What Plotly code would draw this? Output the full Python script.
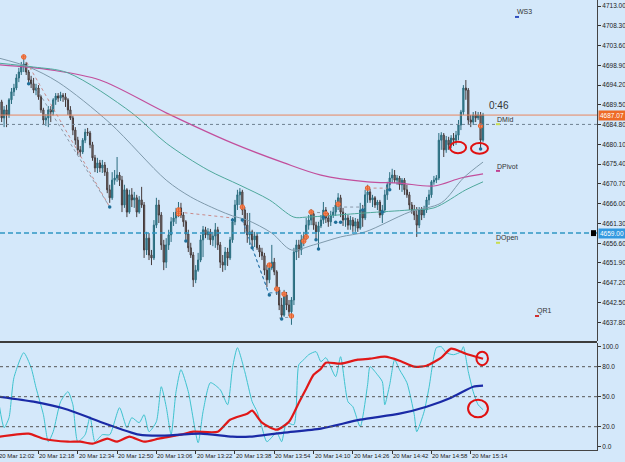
import pandas as pd
import plotly.graph_objects as go

BG = "#d4e8fa"
FONT = "Liberation Sans"
base = pd.Timestamp("2024-03-20 12:02")

# ---------------- price data (1-minute bars from 12:02) ----------------
opens = [
    4688.3, 4690.2, 4686.4, 4688.3, 4687.1, 4690.7, 4692.6, 4693.5, 4695.9, 4697.3,
    4698.7, 4699.2, 4697.3, 4695.4, 4694.5, 4693.0, 4693.5, 4691.4, 4688.3, 4685.9,
    4686.4, 4688.3, 4687.8, 4690.7, 4691.6, 4691.1, 4691.8, 4691.4, 4690.7, 4688.3,
    4686.4, 4683.5, 4681.1, 4678.8, 4678.3, 4681.1, 4683.0, 4682.8, 4680.0, 4676.9,
    4674.5, 4675.7, 4674.5, 4675.2, 4673.5, 4669.3, 4667.4, 4671.6, 4672.1, 4672.8,
    4671.6, 4665.7, 4669.3, 4664.0, 4668.1, 4666.9, 4667.4, 4664.0, 4666.9, 4665.7,
    4655.0, 4657.8, 4653.8, 4653.1, 4660.9, 4665.7, 4663.3, 4656.2, 4652.1, 4656.2,
    4658.6, 4661.7, 4662.6, 4664.0, 4665.0, 4663.3, 4661.7, 4658.8, 4655.5, 4653.8,
    4647.9, 4650.2, 4652.6, 4657.4, 4659.8, 4658.6, 4659.3, 4657.4, 4658.3, 4659.8,
    4656.2, 4652.1, 4651.4, 4654.5, 4653.1, 4657.4, 4661.7, 4665.7, 4668.1, 4668.8,
    4664.5, 4660.9, 4658.6, 4659.3, 4657.4, 4658.3, 4655.5, 4654.5, 4653.6, 4650.2,
    4647.9, 4650.7, 4652.1, 4649.8, 4645.5, 4641.9, 4639.5, 4644.3, 4641.9, 4640.3,
    4643.1, 4654.5, 4656.2, 4655.0, 4657.4, 4658.3, 4660.9, 4662.1, 4663.6, 4660.9,
    4659.3, 4660.7, 4662.1, 4664.5, 4662.6, 4661.7, 4663.3, 4664.0, 4665.7, 4667.4,
    4664.0, 4662.1, 4662.6, 4660.9, 4662.1, 4660.7, 4661.7, 4660.2, 4664.5, 4662.6,
    4668.1, 4668.8, 4666.9, 4667.4, 4665.7, 4666.4, 4663.3, 4664.5, 4668.1, 4670.5,
    4672.1, 4672.8, 4671.6, 4672.1, 4670.5, 4671.6, 4669.3, 4668.1, 4665.7, 4664.5,
    4663.3, 4660.9, 4664.5, 4663.3, 4664.5, 4666.9, 4668.1, 4671.2, 4671.6, 4672.1,
    4681.1, 4682.3, 4678.8, 4681.1, 4680.0, 4681.6, 4681.1, 4682.3, 4684.7, 4687.8,
    4693.5, 4693.0, 4685.9, 4685.4, 4687.1, 4686.4, 4687.1, 4681.1,
]
highs = [
    4691.1, 4690.7, 4689.2, 4689.5, 4691.1, 4693.5, 4694.5, 4696.8, 4698.3, 4699.7,
    4700.4, 4699.7, 4697.8, 4696.4, 4695.9, 4694.5, 4694.2, 4691.8, 4688.8, 4687.3,
    4689.2, 4689.2, 4691.1, 4692.3, 4692.3, 4692.6, 4692.3, 4692.3, 4691.1, 4689.2,
    4686.9, 4684.2, 4681.9, 4679.7, 4681.6, 4683.8, 4684.0, 4683.3, 4680.7, 4677.6,
    4676.9, 4676.4, 4676.4, 4675.9, 4674.5, 4670.5, 4673.5, 4674.0, 4677.1, 4673.5,
    4672.6, 4670.5, 4669.7, 4669.3, 4669.7, 4668.8, 4668.1, 4667.8, 4670.0, 4666.4,
    4659.3, 4659.0, 4655.0, 4662.1, 4667.4, 4666.9, 4664.0, 4657.4, 4657.8, 4659.8,
    4662.8, 4664.0, 4665.0, 4666.4, 4666.2, 4664.0, 4662.1, 4659.8, 4656.7, 4654.5,
    4651.4, 4654.3, 4658.6, 4660.7, 4660.5, 4660.2, 4660.0, 4659.3, 4661.4, 4660.5,
    4656.9, 4653.8, 4655.7, 4655.5, 4658.1, 4662.6, 4666.9, 4669.3, 4669.7, 4669.3,
    4665.2, 4663.8, 4663.8, 4659.8, 4659.3, 4659.0, 4656.2, 4655.5, 4654.3, 4651.4,
    4651.9, 4656.2, 4653.1, 4650.2, 4646.2, 4643.6, 4645.5, 4645.0, 4643.1, 4643.8,
    4655.5, 4657.4, 4657.4, 4658.6, 4659.3, 4662.6, 4663.3, 4664.7, 4664.3, 4661.7,
    4661.7, 4663.3, 4666.4, 4665.2, 4663.8, 4664.3, 4665.2, 4666.9, 4668.5, 4668.1,
    4665.0, 4663.8, 4663.3, 4663.1, 4662.8, 4662.6, 4662.4, 4666.2, 4665.7, 4669.3,
    4670.5, 4669.5, 4668.1, 4667.8, 4666.9, 4666.9, 4665.7, 4669.3, 4671.2, 4673.5,
    4674.3, 4674.0, 4672.8, 4672.6, 4672.1, 4672.1, 4670.5, 4668.8, 4666.4, 4665.7,
    4665.2, 4665.2, 4665.2, 4665.5, 4667.6, 4669.3, 4671.6, 4672.6, 4672.8, 4682.8,
    4683.0, 4682.8, 4682.1, 4681.9, 4682.3, 4682.8, 4683.3, 4685.9, 4688.3, 4694.2,
    4695.4, 4693.5, 4687.1, 4687.8, 4688.0, 4687.8, 4687.8, 4687.6,
]
lows = [
    4687.1, 4685.4, 4684.2, 4684.2, 4686.4, 4689.7, 4691.6, 4693.0, 4694.9, 4696.6,
    4697.3, 4696.6, 4694.2, 4693.5, 4692.3, 4691.8, 4690.7, 4687.6, 4684.7, 4684.5,
    4684.2, 4685.4, 4687.1, 4689.5, 4690.2, 4690.4, 4690.2, 4689.0, 4687.1, 4685.9,
    4682.3, 4680.0, 4677.6, 4677.1, 4677.8, 4680.4, 4682.1, 4679.2, 4676.2, 4673.5,
    4673.3, 4673.5, 4673.3, 4672.6, 4668.5, 4666.2, 4666.9, 4670.5, 4671.2, 4670.2,
    4664.0, 4665.0, 4662.8, 4663.6, 4665.2, 4665.0, 4662.8, 4663.6, 4665.0, 4653.1,
    4653.8, 4652.6, 4651.4, 4652.6, 4660.2, 4661.4, 4655.0, 4650.2, 4650.7, 4655.0,
    4656.9, 4660.7, 4661.2, 4662.8, 4662.6, 4660.5, 4657.4, 4654.5, 4653.1, 4646.2,
    4647.1, 4649.8, 4652.1, 4653.3, 4657.8, 4657.4, 4656.2, 4655.9, 4655.5, 4655.0,
    4650.7, 4649.8, 4650.2, 4651.2, 4652.6, 4656.7, 4660.9, 4664.5, 4665.7, 4663.3,
    4659.0, 4656.7, 4656.2, 4655.7, 4655.7, 4655.0, 4653.3, 4652.6, 4649.0, 4646.2,
    4647.1, 4650.2, 4649.0, 4644.3, 4640.7, 4638.6, 4639.1, 4640.7, 4639.3, 4637.2,
    4641.9, 4652.6, 4653.1, 4653.8, 4655.9, 4657.4, 4659.8, 4660.9, 4659.8, 4657.4,
    4655.2, 4660.2, 4661.2, 4661.4, 4660.5, 4660.7, 4662.6, 4663.1, 4664.5, 4662.8,
    4660.7, 4660.5, 4659.8, 4659.8, 4659.3, 4659.3, 4659.3, 4659.8, 4660.5, 4662.1,
    4666.2, 4666.2, 4665.2, 4665.0, 4664.5, 4662.6, 4661.4, 4663.8, 4666.9, 4669.3,
    4670.9, 4670.9, 4670.5, 4669.3, 4668.8, 4668.1, 4667.4, 4664.5, 4663.6, 4662.1,
    4658.1, 4660.2, 4662.1, 4662.6, 4663.8, 4665.7, 4667.4, 4670.5, 4670.9, 4671.6,
    4678.8, 4677.1, 4678.1, 4678.8, 4679.2, 4679.7, 4680.0, 4681.1, 4683.5, 4687.1,
    4690.7, 4684.7, 4684.2, 4684.7, 4685.4, 4685.9, 4679.2, 4680.7,
]
closes = [
    4690.2, 4686.4, 4688.3, 4687.1, 4690.7, 4692.6, 4693.5, 4695.9, 4697.3, 4698.7,
    4699.2, 4697.3, 4695.4, 4694.5, 4693.0, 4693.5, 4691.4, 4688.3, 4685.9, 4686.4,
    4688.3, 4687.8, 4690.7, 4691.6, 4691.1, 4691.8, 4691.4, 4690.7, 4688.3, 4686.4,
    4683.5, 4681.1, 4678.8, 4678.3, 4681.1, 4683.0, 4682.8, 4680.0, 4676.9, 4674.5,
    4675.7, 4674.5, 4675.2, 4673.5, 4669.3, 4667.4, 4671.6, 4672.1, 4672.8, 4671.6,
    4665.7, 4669.3, 4664.0, 4668.1, 4666.9, 4667.4, 4664.0, 4666.9, 4665.7, 4655.0,
    4657.8, 4653.8, 4653.1, 4660.9, 4665.7, 4663.3, 4656.2, 4652.1, 4656.2, 4658.6,
    4661.7, 4662.6, 4664.0, 4665.0, 4663.3, 4661.7, 4658.8, 4655.5, 4653.8, 4647.9,
    4650.2, 4652.6, 4657.4, 4659.8, 4658.6, 4659.3, 4657.4, 4658.3, 4659.8, 4656.2,
    4652.1, 4651.4, 4654.5, 4653.1, 4657.4, 4661.7, 4665.7, 4668.1, 4668.8, 4664.5,
    4660.9, 4658.6, 4659.3, 4657.4, 4658.3, 4655.5, 4654.5, 4653.6, 4650.2, 4647.9,
    4650.7, 4652.1, 4649.8, 4645.5, 4641.9, 4639.5, 4644.3, 4641.9, 4640.3, 4643.1,
    4654.5, 4656.2, 4655.0, 4657.4, 4658.3, 4660.9, 4662.1, 4663.6, 4660.9, 4659.3,
    4660.7, 4662.1, 4664.5, 4662.6, 4661.7, 4663.3, 4664.0, 4665.7, 4667.4, 4664.0,
    4662.1, 4662.6, 4660.9, 4662.1, 4660.7, 4661.7, 4660.2, 4664.5, 4662.6, 4668.1,
    4668.8, 4666.9, 4667.4, 4665.7, 4666.4, 4663.3, 4664.5, 4668.1, 4670.5, 4672.1,
    4672.8, 4671.6, 4672.1, 4670.5, 4671.6, 4669.3, 4668.1, 4665.7, 4664.5, 4663.3,
    4660.9, 4664.5, 4663.3, 4664.5, 4666.9, 4668.1, 4671.2, 4671.6, 4672.1, 4681.1,
    4682.3, 4678.8, 4681.1, 4680.0, 4681.6, 4681.1, 4682.3, 4684.7, 4687.8, 4693.5,
    4693.0, 4685.9, 4685.4, 4687.1, 4686.4, 4687.1, 4681.1, 4687.07,
]

# moving averages (bar index, value)
ma_fast_idx = [0, 12, 24, 45, 68, 78, 89, 95, 101, 111, 119, 128, 139, 149, 167, 180, 189, 197]
ma_fast_val = [4700.6, 4698.5, 4694.9, 4685.2, 4671.6, 4667.6, 4664.5, 4663.1, 4662.1, 4659.0,
               4655.0, 4656.2, 4658.1, 4659.3, 4664.0, 4666.2, 4672.1, 4675.9]
ma_mid_idx = [0, 14, 28, 54, 68, 85, 98, 110, 120, 125, 149, 167, 177, 190, 197]
ma_mid_val = [4699.4, 4698.5, 4697.1, 4687.6, 4680.4, 4674.0, 4670.4, 4666.9, 4662.8, 4662.8,
              4663.8, 4664.5, 4665.0, 4669.3, 4671.2]
ma_slow_idx = [0, 21, 41, 68, 95, 116, 131, 150, 163, 177, 188, 197]
ma_slow_val = [4699.0, 4697.8, 4695.4, 4687.6, 4680.4, 4675.7, 4672.8, 4671.2, 4670.9, 4670.2,
               4672.1, 4673.1]

# fractal markers
up_frac_idx = [10, 73, 73, 99, 110, 113, 116, 119, 124, 125, 127, 133, 138, 150, 196]
up_frac_val = [4700.9, 4664.5, 4663.6, 4665.2, 4651.4, 4645.7, 4644.5, 4639.3, 4657.1, 4658.1,
               4664.0, 4663.6, 4665.9, 4669.7, 4684.5]
dn_frac_idx = [12, 45, 76, 95, 99, 103, 110, 115, 129, 130, 132, 137, 139, 148, 156, 159, 196]
dn_frac_val = [4694.5, 4665.2, 4657.1, 4662.1, 4662.1, 4655.5, 4644.3, 4638.6, 4657.4, 4655.2,
               4662.8, 4661.6, 4661.6, 4664.5, 4664.0, 4669.3, 4679.0]

# zigzag segments (bar0, price0, bar1, price1)
zz_pink = [(10, 4700.9, 45, 4665.2), (73, 4664.0, 95, 4662.6), (150, 4669.7, 158, 4669.7)]
zz_grey = [(15, 4693.5, 45, 4665.2), (114, 4638.8, 120, 4639.1), (127, 4664.0, 133, 4663.8),
           (138, 4665.2, 149, 4665.2)]
zz_blue = [(99, 4662.1, 110, 4644.3), (103, 4655.5, 110, 4644.3), (110, 4644.8, 117, 4644.8)]

# levels
last_price = 4687.07
dmid_level = 4684.85
dopen_level = 4659.00

price_tick_labels = ["4713.00", "4708.30", "4703.60", "4698.90", "4694.20", "4689.50", "4684.80",
                     "4680.10", "4675.40", "4670.70", "4666.00", "4661.30", "4656.60", "4651.90",
                     "4647.20", "4642.50", "4637.80"]
first_time_label = "20 Mar 12:02"
time_tick_labels = ["20 Mar 12:18", "20 Mar 12:34", "20 Mar 12:50", "20 Mar 13:06",
                    "20 Mar 13:22", "20 Mar 13:38", "20 Mar 13:54", "20 Mar 14:10", "20 Mar 14:26",
                    "20 Mar 14:42", "20 Mar 14:58", "20 Mar 15:14"]

# oscillator panel
osc_levels = [20, 50, 80]
osc_tick_labels = ["0.0", "20.0", "50.0", "80.0", "100.0"]
cyan_idx = [0, 2, 4, 6, 10, 13, 15, 18, 20, 22, 25, 28, 30, 32, 35, 37, 39, 42, 45, 49,
            52, 54, 57, 59, 61, 64, 66, 68, 70, 72, 74, 77, 81, 83, 86, 90, 93, 95, 97, 100,
            103, 105, 107, 109, 113, 115, 117, 120, 122, 124, 126, 129, 131, 133, 137, 139, 142, 144, 147, 150,
            151, 154, 156, 157, 159, 161, 163, 166, 169, 170, 173, 175, 178, 180, 182, 185, 188, 189, 191, 193,
            195, 197]
cyan_val = [42, 19, 29, 69, 94, 79, 59, 32, 5, 15, 45, 55, 42, 5, 12, 30, 5, 12, 12, 39,
            19, 29, 24, 32, 15, 25, 60, 40, 12, 55, 77, 55, 4, 35, 64, 57, 42, 79, 99, 75,
            45, 35, 19, 5, 14, 5, 24, 22, 82, 87, 92, 95, 85, 89, 70, 90, 45, 40, 20, 62,
            80, 72, 65, 42, 62, 87, 77, 64, 32, 15, 35, 59, 99, 100, 94, 92, 95, 100, 75, 55,
            42, 37]
red_idx = [0, 12, 18, 28, 33, 38, 44, 48, 53, 59, 65, 74, 79, 89, 94, 101, 103, 107, 113, 118,
           122, 125, 128, 131, 133, 139, 146, 151, 157, 163, 169, 174, 180, 184, 190, 197]
red_val = [10, 13, 8, 5, 5, 3, 8, 5, 10, 5, 8, 12, 15, 15, 27, 33, 36, 24, 17, 25,
           44, 58, 72, 78, 84, 83, 87, 88, 90, 86, 80, 81, 89, 98, 93, 88]
navy_idx = [0, 14, 28, 41, 57, 65, 82, 95, 102, 116, 131, 147, 163, 174, 184, 193, 197]
navy_val = [50, 45, 37, 25, 12, 11, 13, 10, 10, 14, 18, 27, 33, 40, 49, 60, 61]


def t(i):
    return base + pd.Timedelta(minutes=float(i))


times = [t(i) for i in range(len(closes))]

fig = go.Figure()
fig.add_trace(go.Candlestick(
    x=times, open=opens, high=highs, low=lows, close=closes,
    increasing=dict(line=dict(color="#2a6c7e", width=1), fillcolor="#3a8797"),
    decreasing=dict(line=dict(color="#453a3a", width=1), fillcolor="#8e8888"),
    whiskerwidth=0, xaxis="x", yaxis="y", hoverinfo="skip"))


def line_trace(idx, vals, color, width, yaxis="y", smoothing=0.9, dash=None):
    return go.Scatter(x=[t(i) for i in idx], y=vals, mode="lines", xaxis="x", yaxis=yaxis,
                      line=dict(color=color, width=width, shape="spline", smoothing=smoothing, dash=dash),
                      hoverinfo="skip")


fig.add_trace(line_trace(ma_slow_idx, ma_slow_val, "#c24f9c", 1.2))
fig.add_trace(line_trace(ma_mid_idx, ma_mid_val, "#4fa89c", 1))
fig.add_trace(line_trace(ma_fast_idx, ma_fast_val, "#7f9aac", 1))


def seg_trace(segs, color):
    xs, ys = [], []
    for a, pa, b, pb in segs:
        xs += [t(a), t(b), None]
        ys += [pa, pb, None]
    return go.Scatter(x=xs, y=ys, mode="lines", xaxis="x", yaxis="y",
                      line=dict(color=color, width=1, dash="dot"), hoverinfo="skip")


fig.add_trace(seg_trace(zz_pink, "#c98a8a"))
fig.add_trace(seg_trace(zz_grey, "#8a98a8"))
fig.add_trace(seg_trace(zz_blue, "#3a7fb0"))

fig.add_trace(go.Scatter(x=[t(i) for i in up_frac_idx], y=up_frac_val, mode="markers", xaxis="x", yaxis="y",
                         marker=dict(symbol="circle-cross", size=4.5, color="#f5b090",
                                     line=dict(color="#e8602a", width=1)), hoverinfo="skip"))
fig.add_trace(go.Scatter(x=[t(i) for i in dn_frac_idx], y=dn_frac_val, mode="markers", xaxis="x", yaxis="y",
                         marker=dict(symbol="circle", size=3.5, color="#1f6f9a"), hoverinfo="skip"))

# oscillator panel
fig.add_trace(line_trace(cyan_idx, cyan_val, "#3ec3cf", 1, yaxis="y2", smoothing=0.6))
fig.add_trace(line_trace(red_idx, red_val, "#e01818", 2.2, yaxis="y2", smoothing=0.6))
fig.add_trace(line_trace(navy_idx, navy_val, "#1a2aa6", 2.2, yaxis="y2", smoothing=0.6))

XR = 597 / 625
shapes = []
# separator between panels
shapes.append(dict(type="line", xref="paper", yref="paper", x0=0, x1=XR, y0=(450 - 342) / 450,
                   y1=(450 - 342) / 450, line=dict(color="#3c3c3c", width=2)))
for lv in osc_levels:
    shapes.append(dict(type="line", xref="paper", yref="y2", x0=0, x1=XR, y0=lv, y1=lv,
                       line=dict(color="#555555", width=1, dash="dot")))
shapes.append(dict(type="line", xref="paper", yref="y", x0=0, x1=XR, y0=last_price, y1=last_price,
                   line=dict(color="#e8865e", width=1)))
shapes.append(dict(type="line", xref="paper", yref="y", x0=0, x1=XR, y0=dmid_level, y1=dmid_level,
                   line=dict(color="#6f8191", width=1, dash="3px,3px")))
shapes.append(dict(type="line", xref="paper", yref="y", x0=0, x1=XR, y0=dopen_level, y1=dopen_level,
                   line=dict(color="#2f96c4", width=1.5, dash="5px,3px")))
shapes.append(dict(type="rect", xref="paper", yref="y", x0=591 / 625, x1=596 / 625,
                   y0=dopen_level - 0.7, y1=dopen_level + 0.7, fillcolor="#000000", line=dict(width=0)))
# hand-drawn red ellipses
shapes.append(dict(type="circle", xref="x", yref="y", x0=t(183.5), x1=t(190.1), y0=4678.0, y1=4680.7,
                   line=dict(color="#e01010", width=2)))
shapes.append(dict(type="circle", xref="x", yref="y", x0=t(192.1), x1=t(199.0), y0=4677.9, y1=4680.4,
                   line=dict(color="#e01010", width=2)))
shapes.append(dict(type="circle", xref="x", yref="y2", x0=t(194.3), x1=t(199.0), y0=81.5, y1=95,
                   line=dict(color="#e01010", width=2)))
shapes.append(dict(type="circle", xref="x", yref="y2", x0=t(190.9), x1=t(199.0), y0=29.5, y1=47,
                   line=dict(color="#e01010", width=2)))
# small level marks under labels
for (px0, py, col) in [(515, 4710.4, "#3050c0"), (496, 4684.9, "#c8dc50"), (496, 4673.8, "#c04090"),
                       (496, 4656.7, "#c8dc50"), (535, 4639.3, "#d03030")]:
    shapes.append(dict(type="line", xref="paper", yref="y", x0=px0 / 625, x1=(px0 + 4) / 625, y0=py, y1=py,
                       line=dict(color=col, width=2)))

annotations = []
tf = dict(family=FONT, size=7, color="#333333")
for txt, px0, py in [("WS3", 515, 4711.6), ("DMid", 495, 4686.0), ("DPivot", 495, 4674.9),
                     ("DOpen", 494, 4657.8), ("QR1", 535, 4640.6)]:
    annotations.append(dict(text=txt, xref="paper", yref="y", x=px0 / 625, y=py, xanchor="left",
                            yanchor="middle", showarrow=False, font=tf))
annotations.append(dict(text="0:46", xref="paper", yref="y", x=487 / 625, y=4689.4, xanchor="left",
                        yanchor="middle", showarrow=False, font=dict(family=FONT, size=10, color="#333333")))
annotations.append(dict(text="%.2f" % last_price, xref="paper", yref="y", x=XR + 1 / 625, y=last_price,
                        xanchor="left", yanchor="middle", showarrow=False, bgcolor="#ee6a26", borderpad=1,
                        font=dict(family=FONT, size=6.5, color="#ffffff")))
annotations.append(dict(text="%.2f" % dopen_level, xref="paper", yref="y", x=XR + 1 / 625, y=dopen_level,
                        xanchor="left", yanchor="middle", showarrow=False, bgcolor="#3299e0", borderpad=1,
                        font=dict(family=FONT, size=6.5, color="#ffffff")))

xfont = dict(family=FONT, size=6, color="#222222")
# first label sits at the very left edge (partly cut in the reference)
annotations.append(dict(text=first_time_label, xref="paper", yref="paper", x=-3 / 625, y=0, xanchor="left",
                        yanchor="top", yshift=-1, showarrow=False, font=xfont))
tick_times = [pd.Timestamp("2024-03-20 " + s.split()[-1]) for s in time_tick_labels]
for tt, lab in zip(tick_times, time_tick_labels):
    annotations.append(dict(text=lab, xref="x", yref="paper", x=tt, y=0, xanchor="left", yanchor="top",
                            xshift=-1, yshift=-1, showarrow=False, font=xfont))

fig.update_layout(
    width=625, height=462, margin=dict(l=0, r=0, t=0, b=12),
    paper_bgcolor=BG, plot_bgcolor=BG, showlegend=False,
    shapes=shapes, annotations=annotations,
    xaxis=dict(domain=[0, XR], range=[t(0.33), t(243.4)], anchor="y2", showgrid=False, zeroline=False,
               tickvals=tick_times, showticklabels=False, ticks="outside", ticklen=3, tickcolor="#333",
               showline=True, linecolor="#444444", linewidth=1, rangeslider=dict(visible=False),
               automargin=False),
    yaxis=dict(domain=[(450 - 341) / 450, 1], range=[4633.35, 4714.43], side="right", anchor="x",
               tickvals=[float(s) for s in price_tick_labels], ticktext=price_tick_labels,
               ticks="outside", ticklen=3, tickcolor="#333", showgrid=False, zeroline=False,
               showline=True, linecolor="#444444", linewidth=1,
               tickfont=dict(family=FONT, size=6.5, color="#222222"), automargin=False),
    yaxis2=dict(domain=[0, (450 - 343) / 450], range=[-3.3, 103.7], side="right", anchor="x",
                tickvals=[float(s) for s in osc_tick_labels], ticktext=osc_tick_labels,
                ticks="outside", ticklen=3, tickcolor="#333", showgrid=False, zeroline=False,
                showline=True, linecolor="#444444", linewidth=1,
                tickfont=dict(family=FONT, size=6.5, color="#222222"), automargin=False),
)

fig.write_html("out.html")
